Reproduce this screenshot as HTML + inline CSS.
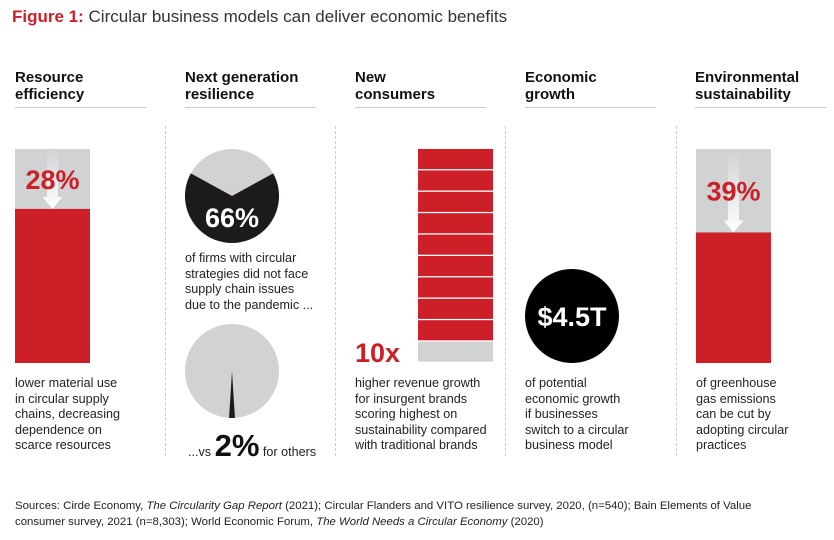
<!DOCTYPE html>
<html><head><meta charset="utf-8">
<style>
body{margin:0;background:#fff;}
#root{position:relative;width:834px;height:540px;overflow:hidden;font-family:"Liberation Sans",Arial,sans-serif;color:#222;}
.t{position:absolute;white-space:nowrap;}
.h{position:absolute;font-weight:bold;font-size:15px;line-height:17px;color:#111;}
.ul{position:absolute;top:107px;height:1px;width:131px;background:#ccc;}
.b{position:absolute;font-size:12.6px;line-height:15.6px;color:#222;}
.sep{position:absolute;top:126px;height:330px;width:0;border-left:1px dashed #ccc;}
</style></head><body>
<div id="root">
<div class="t" style="left:12px;top:7px;font-size:17px;"><b style="color:#cc1f27">Figure 1:</b> <span style="color:#333">Circular business models can deliver economic benefits</span></div>

<div class="h" style="left:15px;top:69px">Resource<br>efficiency</div>
<div class="h" style="left:185px;top:69px">Next generation<br>resilience</div>
<div class="h" style="left:355px;top:69px">New<br>consumers</div>
<div class="h" style="left:525px;top:69px">Economic<br>growth</div>
<div class="h" style="left:695px;top:69px">Environmental<br>sustainability</div>
<div class="ul" style="left:15px"></div>
<div class="ul" style="left:185px"></div>
<div class="ul" style="left:355px"></div>
<div class="ul" style="left:525px"></div>
<div class="ul" style="left:695px"></div>
<div class="sep" style="left:165px"></div>
<div class="sep" style="left:335px"></div>
<div class="sep" style="left:505px"></div>
<div class="sep" style="left:676px"></div>

<svg id="g" width="834" height="540" style="position:absolute;left:0;top:0">
<defs><linearGradient id="ag" x1="0" y1="0" x2="0" y2="1"><stop offset="0" stop-color="#fff" stop-opacity="0"/><stop offset="1" stop-color="#fff" stop-opacity="1"/></linearGradient></defs>
</svg>

<div class="b" style="left:15px;top:376px">lower material use<br>in circular supply<br>chains, decreasing<br>dependence on<br>scarce resources</div>
<div class="b" style="left:185px;top:251px">of firms with circular<br>strategies did not face<br>supply chain issues<br>due to the pandemic ...</div>
<div class="t" style="left:188px;top:428px;font-size:12.6px">...vs <b id="v2" style="font-size:31px;color:#111">2%</b> for others</div>
<div class="b" style="left:355px;top:376px">higher revenue growth<br>for insurgent brands<br>scoring highest on<br>sustainability compared<br>with traditional brands</div>
<div class="b" style="left:525px;top:376px">of potential<br>economic growth<br>if businesses<br>switch to a circular<br>business model</div>
<div class="b" style="left:696px;top:376px">of greenhouse<br>gas emissions<br>can be cut by<br>adopting circular<br>practices</div>

<div class="t" style="left:15px;top:498px;font-size:11.4px;line-height:16px;color:#222">Sources: Cirde Economy, <i>The Circularity Gap Report</i> (2021); Circular Flanders and VITO resilience survey, 2020, (n=540); Bain Elements of Value<br>consumer survey, 2021 (n=8,303); World Economic Forum, <i>The World Needs a Circular Economy</i> (2020)</div>
</div>
<script>
const reductionValues=[28,39];
const pieValues=[66,2];
const multiplier=10;
const dollarLabel="$4.5T";
const NS="http://www.w3.org/2000/svg";
const svg=document.getElementById('g');
const RED="#cc1f27",GRAY="#d1d2d4",BLACK="#1c1a1b";
const barTop=149,barH=214,barW=75;
const yScale=v=>barTop+barH*v/100;
function mk(tag,attrs){const e=document.createElementNS(NS,tag);for(const k in attrs)e.setAttribute(k,attrs[k]);svg.appendChild(e);return e;}
function reductionBar(x,v,name){
  let g=mk('rect',{x:x,y:barTop,width:barW,height:barH,fill:GRAY});
  
  
  const yr=yScale(v);
  let r=mk('rect',{x:x,y:yr,width:barW,height:barTop+barH-yr,fill:RED});
  
  
  const cx=x+barW/2;
  let a=mk('path',{d:`M${cx-5.5},${barTop} L${cx+5.5},${barTop} L${cx+5.5},${yr-12} L${cx+10},${yr-12} L${cx},${yr} L${cx-10},${yr-12} L${cx-5.5},${yr-12}Z`,fill:'url(#ag)'});
  
  
  let t=mk('text',{x:cx,y:(barTop+yr)/2+10,'text-anchor':'middle','font-size':27,'font-weight':'bold',fill:RED,'font-family':'Liberation Sans, sans-serif'});
  t.textContent=v+'%';
  
  
}
reductionBar(15,reductionValues[0],'resource-bar');
reductionBar(696,reductionValues[1],'emissions-bar');
function pie(cx,cy,r,v,name){
  let c=mk('circle',{cx:cx,cy:cy,r:r,fill:GRAY});
  
  
  const half=Math.PI*v/100;
  const a1=Math.PI/2-half,a2=Math.PI/2+half;
  const p1=[cx+r*Math.cos(a1),cy+r*Math.sin(a1)],p2=[cx+r*Math.cos(a2),cy+r*Math.sin(a2)];
  let s=mk('path',{d:`M${cx},${cy} L${p1[0]},${p1[1]} A${r},${r} 0 ${v>50?1:0} 1 ${p2[0]},${p2[1]} Z`,fill:BLACK});
  
  
}
pie(232,196,47,pieValues[0],'pie-66');
let t66=mk('text',{x:232,y:227,'text-anchor':'middle','font-size':27,'font-weight':'bold',fill:'#fff','font-family':'Liberation Sans, sans-serif'});
t66.textContent=pieValues[0]+'%';


pie(232,371,47,pieValues[1],'pie-2');
document.getElementById('v2').textContent=pieValues[1]+'%';
const segH=barH/multiplier;
for(let i=0;i<multiplier;i++){
  let s=mk('rect',{x:418,y:barTop+i*segH,width:barW,height:segH-1.3,fill:i<multiplier-1?RED:GRAY});
  
  
}
let tx=mk('text',{x:355,y:362,'font-size':27,'font-weight':'bold',fill:RED,'font-family':'Liberation Sans, sans-serif'});
tx.textContent=multiplier+'x';


let dc=mk('circle',{cx:572,cy:316,r:47,fill:'#000'});


let dt=mk('text',{x:572,y:326,'text-anchor':'middle','font-size':27,'font-weight':'bold',fill:'#fff','font-family':'Liberation Sans, sans-serif'});
dt.textContent=dollarLabel;


</script>
</body></html>
